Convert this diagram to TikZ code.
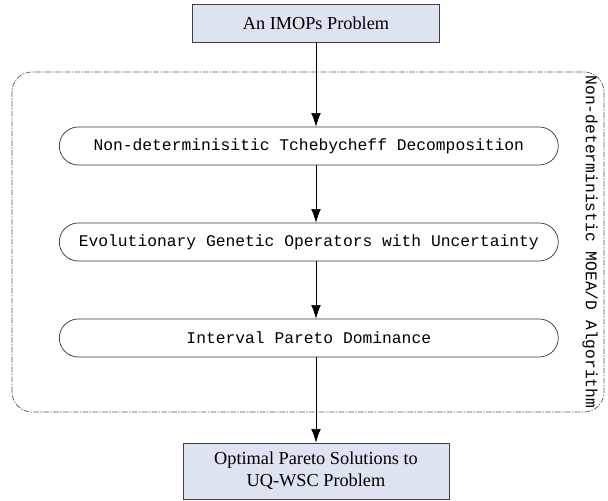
\documentclass[tikz,border=0pt]{standalone}
\usepackage{fontspec}
\setmainfont{Liberation Serif}
\setmonofont{Liberation Mono}
\usepackage{tikz}
\usetikzlibrary{arrows.meta}
\definecolor{boxfill}{RGB}{221,227,240}
\tikzset{
  iobox/.style={draw=black!75, fill=boxfill, line width=0.6pt, align=center,
    inner sep=0pt, font=\fontsize{13}{15.5}\selectfont},
  stepbox/.style={draw=black!80, rounded corners=0.475cm, line width=0.5pt,
    minimum width=12.475cm, minimum height=0.95cm, inner sep=0pt,
    font=\ttfamily\fontsize{11.6}{14}\selectfont},
  algframe/.style={draw=black!65, line width=0.5pt, rounded corners=0.5cm,
    dash pattern=on 4pt off 1pt on 1pt off 1pt}
}

\begin{document}
\begin{tikzpicture}[>={Latex[length=3.4mm,width=2.4mm]}]
  \useasboundingbox (0,0) rectangle (15.2,12.525);
  % framed algorithm part
  \draw [algframe] (0.3, 2.225) rectangle (15.1, 10.725);
  \node [rotate=-90, font=\ttfamily\fontsize{11.6}{14}\selectfont] (ALG) at (14.75, 6.475) {Non-deterministic MOEA/D Algorithm};
  \node [iobox, minimum width=6.175cm, minimum height=0.95cm] (IN) at (7.9, 11.95) {An IMOPs Problem};
  \node [stepbox] (DEC) at (7.72, 8.875) {Non-determinisitic Tchebycheff Decomposition};
  \node [stepbox] (GEN) at (7.72, 6.475) {Evolutionary Genetic Operators with Uncertainty};
  \node [stepbox] (DOM) at (7.72, 4.075) {Interval Pareto Dominance};
  \node [iobox, minimum width=6.65cm, minimum height=1.4cm] (OUT) at (7.9, 0.75) {Optimal Pareto Solutions to\\UQ-WSC Problem};
  \draw [->] (IN.south) -- (IN.south |- DEC.north);
  \draw [->] (IN.south |- DEC.south) -- (IN.south |- GEN.north);
  \draw [->] (IN.south |- GEN.south) -- (IN.south |- DOM.north);
  \draw [->] (IN.south |- DOM.south) -- (OUT.north);
\end{tikzpicture}
\end{document}
